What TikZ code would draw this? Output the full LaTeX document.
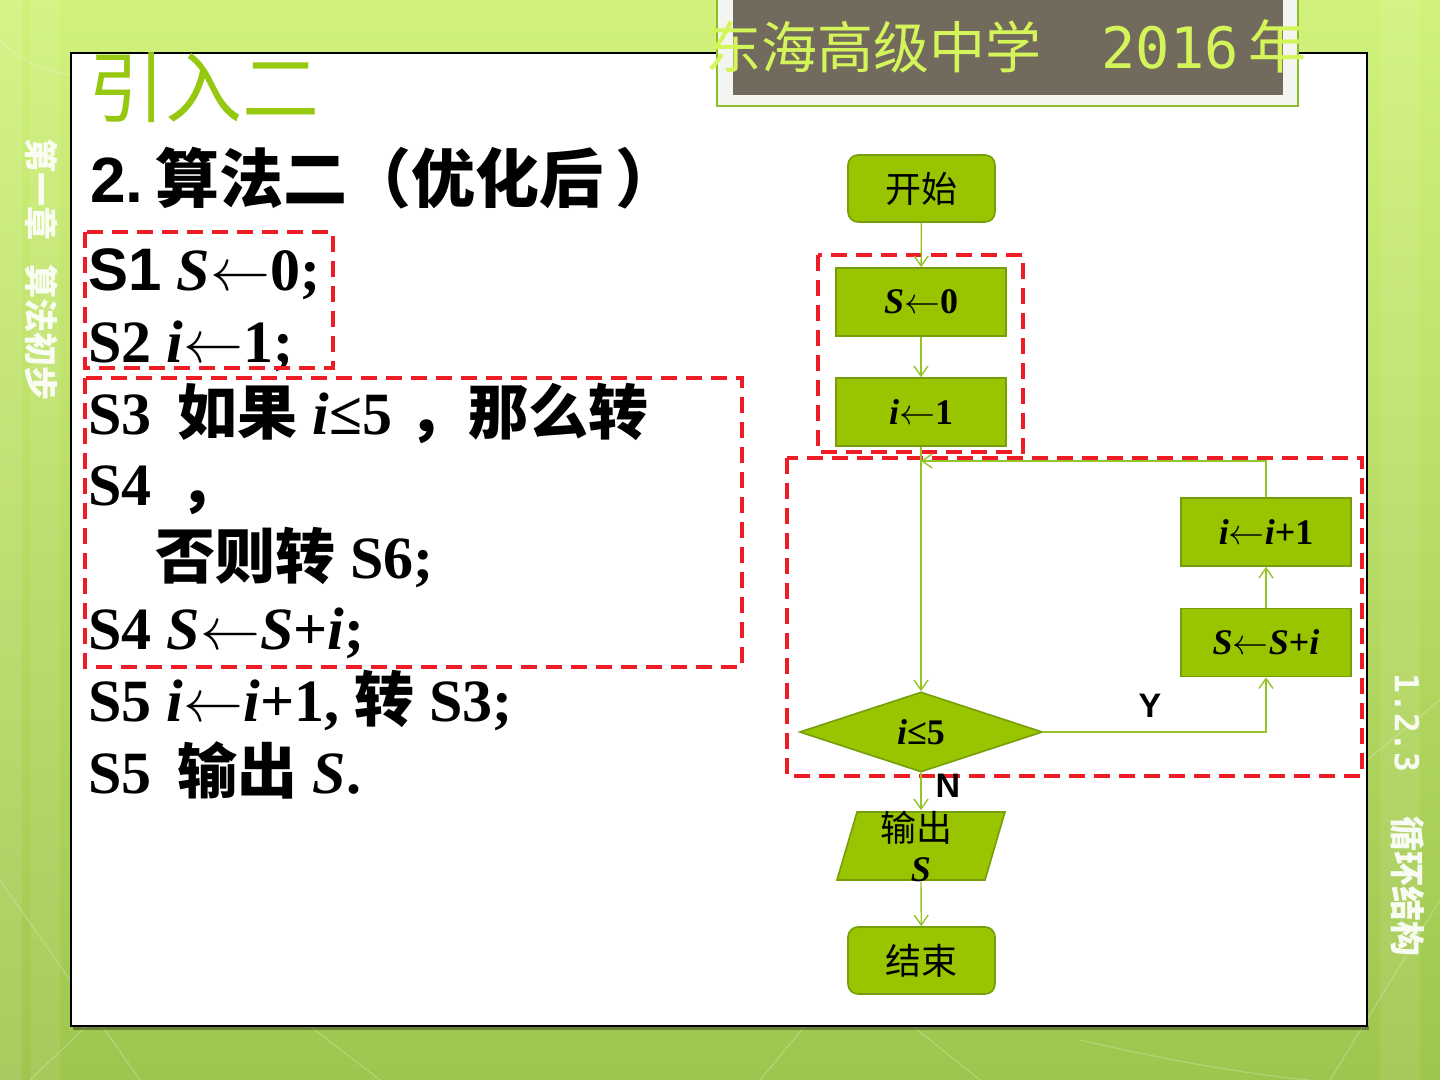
\RequirePackage{fix-cm}
\documentclass[tikz,border=0pt]{standalone}
\usepackage{fontspec}
\setmainfont{Liberation Serif}
\newfontfamily\cjk{Noto Sans CJK SC}
\newfontfamily\arialf{Liberation Sans}
\newfontfamily\monof{DejaVu Sans Mono}
\usetikzlibrary{arrows.meta,shapes.geometric,calc}

\definecolor{bgtop}{RGB}{208,242,124}
\definecolor{bgbot}{RGB}{158,198,78}
\definecolor{boxfill}{RGB}{153,197,0}
\definecolor{boxline}{RGB}{118,158,10}
\definecolor{conn}{RGB}{150,196,40}
\definecolor{titlegreen}{RGB}{150,200,15}
\definecolor{hdrtext}{RGB}{212,245,90}
\definecolor{hdrbox}{RGB}{115,106,94}
\definecolor{hdrframe}{RGB}{140,190,40}
\definecolor{hdrpale}{RGB}{244,245,240}
\definecolor{dashred}{RGB}{238,28,36}

\newcommand\zh[1]{{\cjk\bfseries #1}}
\newcommand\vi[1]{{\bfseries\itshape #1}}
\newcommand\getsarrow{\ensuremath{\leftarrow}}

\tikzset{
  fbox/.style={draw=boxline,fill=boxfill,line width=0.8pt,inner sep=0pt,
    minimum width=85pt,minimum height=34pt,font=\fontsize{18}{21}\selectfont\bfseries},
  term/.style={fbox,rounded corners=5pt,minimum width=73.5pt,minimum height=33.5pt,
    font=\cjk\fontsize{18}{21}\selectfont},
  arr/.style={draw=conn,line width=0.7pt,-{Straight Barb[length=5pt,width=7pt]}},
  redbox/.style={draw=dashred,line width=1.6pt,dash pattern=on 8pt off 4.5pt},
  alg/.style={anchor=base west,inner sep=0pt,font=\bfseries\fontsize{30}{34}\selectfont},
  lbl/.style={font=\arialf\bfseries\fontsize{17}{20}\selectfont,inner sep=0pt},
}

\begin{document}
\begin{tikzpicture}[x=0.5pt,y=-0.5pt]
\useasboundingbox (0,0) rectangle (1440,1080);
% background
\shade[top color=bgtop,bottom color=bgbot] (0,0) rectangle (1440,1080);
\fill[white,opacity=0.10] (0,0) rectangle (22,1080);
\fill[white,opacity=0.08] (30,0) rectangle (60,1080);
\fill[white,opacity=0.08] (1380,0) rectangle (1420,1080);
\begin{scope}[white,opacity=0.22,line width=0.6pt]
  \draw (0,880) -- (140,1080);
  \draw (30,1080) -- (260,860);
  \draw (380,1080) -- (250,980);
  \draw (760,1080) -- (860,960);
  \draw (980,1080) -- (830,960);
  \draw (1330,1080) -- (1440,900);
  \draw (1440,700) -- (1367,760);
  \draw (1080,1040) .. controls (1250,1080) and (1380,1090) .. (1440,1085);
  \draw (0,40) .. controls (20,60) and (40,70) .. (71,75);
  \draw (1200,53) -- (1250,10);
\end{scope}
% white panel
\fill[black,opacity=0.35] (73,1026) rectangle (1369,1030);
\draw[fill=white,line width=0.8pt] (71,53) rectangle (1367,1026);
% header box
\draw[hdrframe,line width=1.2pt,fill=hdrpale] (717,-5) rectangle (1298,106);
\fill[hdrbox] (733,-5) rectangle (1283,95);
\node[anchor=base west,inner sep=0pt,text=hdrtext] (hdr) at (705,69)
  {{\cjk\fontsize{28}{32}\selectfont 东海高级中学}\hspace{30pt}{\monof\fontsize{28.5}{32}\selectfont 2016}\hspace{5pt}{\cjk\fontsize{29}{32}\selectfont 年}};
% side texts
\node[rotate=-90,text=white,opacity=0.92,inner sep=0pt,font=\cjk\bfseries\fontsize{17}{20}\selectfont] (side1) at (42,270) {第一章\hspace{12pt}算法初步};
\node[rotate=-90,text=white,opacity=0.92,inner sep=0pt] (side2) at (1408,815)
  {{\monof\bfseries\fontsize{16.5}{20}\selectfont 1.2.3}\hspace{22pt}{\cjk\bfseries\fontsize{17.5}{20}\selectfont 循环结构}};
% title and heading
\node[anchor=base west,inner sep=0pt,text=titlegreen] (title) at (88,117) {\cjk\fontsize{38.5}{42}\selectfont 引入二};
\node[anchor=base west,inner sep=0pt] (head) at (90,203)
  {{\arialf\bfseries\fontsize{32}{36}\selectfont 2.}\hspace{6pt}{\cjk\bfseries\fontsize{32}{36}\selectfont 算法二（优化后\hspace{6pt}）}};
% algorithm lines
\node[alg] (l1) at (88,291) {{\arialf S1} \vi{S}\getsarrow0;};
\node[alg] (l2) at (88,363) {S2 \vi{i}\getsarrow1;};
\node[alg] (l3) at (88,435) {S3\hspace{13pt}\zh{如果} \vi{i}≤5\hspace{8pt}\zh{，那么转}};
\node[alg] (l4) at (88,505) {S4\hspace{14pt}\zh{，}};
\node[alg] (l5) at (88,578) {\hspace{33.5pt}\zh{否则转} S6;};
\node[alg] (l6) at (88,649) {S4 \vi{S}\getsarrow\vi{S}+\vi{i};};
\node[alg] (l7) at (88,721) {S5 \vi{i}\getsarrow\vi{i}+1, \zh{转} S3;};
\node[alg] (l8) at (88,793) {S5\hspace{13pt}\zh{输出} \vi{S}.};
% red dashed boxes
\draw[redbox] (85,232) rectangle (333,368);
\draw[redbox] (85,378) rectangle (742,667);
\draw[redbox] (818,255) rectangle (1023,452);
\draw[redbox] (787,458) rectangle (1362,776);
% flowchart
\node[term] (start) at (921.5,188.5) {开始};
\node[fbox] (s0) at (921,302) {\vi{S}\getsarrow0};
\node[fbox] (i1) at (921,412) {\vi{i}\getsarrow1};
\node[diamond,draw=boxline,fill=boxfill,line width=0.8pt,inner sep=0pt,
      minimum width=121.5pt,minimum height=40pt,font=\fontsize{18}{21}\selectfont\bfseries] (dec) at (921,732) {\raisebox{-2pt}{\vi{i}≤5}};
\node[fbox] (sum) at (1266,642.5) {\vi{S}\getsarrow\vi{S}+\vi{i}};
\node[fbox] (inc) at (1266,532) {\vi{i}\getsarrow\vi{i}+1};
\draw[boxline,fill=boxfill,line width=0.8pt] (837,880) -- (857,812) -- (1005,812) -- (985,880) -- cycle;
\node[inner sep=0pt,minimum width=64pt,minimum height=34pt,align=center,
      font=\fontsize{18}{20}\selectfont] (io) at (921,846)
  {\hspace{-5pt}{\cjk 输出}\\ \vi{S}};
\node[term] (stop) at (921.5,960.5) {结束};
\coordinate (join) at (921,461);
% connectors
\draw[arr] (start) -- (s0);
\draw[arr] (s0) -- (i1);
\draw[arr] (i1) -- (dec);
\draw[arr] (dec.east) -| (sum.south);
\draw[arr] (sum) -- (inc);
\draw[arr] (inc.north) |- (join);
\draw[arr] (dec.south) -- (io.north);
\draw[arr] (io.south) -- (stop);
\node[lbl] (ylab) at (1150,706) {Y};
\node[lbl] (nlab) at (948,786) {N};
\end{tikzpicture}
\end{document}
